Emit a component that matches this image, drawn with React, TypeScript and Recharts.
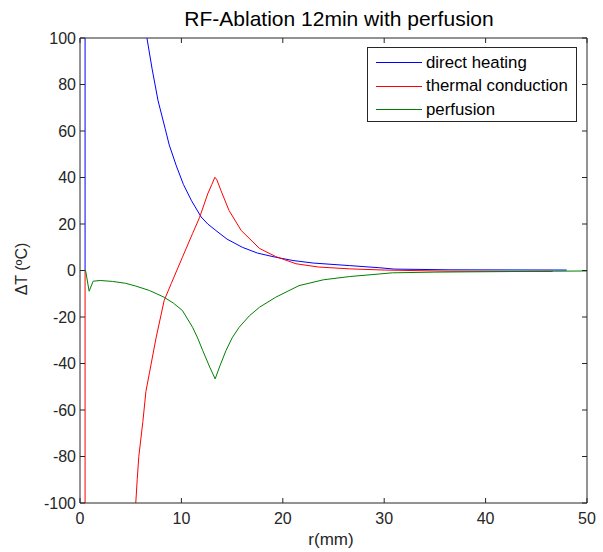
import React from 'react';
import { LineChart, Line, XAxis, YAxis } from 'recharts';

const directR = [0, 0.5, 0.6, 1, 2, 3, 4, 5, 6, 6.6, 7.1, 7.7, 8.4, 8.8, 9.5, 10.2, 11, 11.95, 12.6, 13.4, 14.5, 16, 17.5, 19.3, 21, 23, 26.6, 29.5, 31, 36.4, 48];
const directT = [0, 0, 5000, 4000, 1100, 480, 270, 170, 120, 100, 87, 73, 61, 54, 45, 37, 30, 23, 20, 17.2, 13.5, 10, 7.5, 5.7, 4.3, 3.2, 2.1, 1.2, 0.6, 0.3, 0.2];

const condR = [0, 0.5, 0.55, 1, 3, 5, 5.5, 5.64, 5.8, 6.2, 6.5, 6.85, 7.5, 8.3, 9, 10.1, 11.1, 11.8, 12.6, 13.0, 13.3, 13.5, 13.9, 14.7, 15.9, 17.7, 19.3, 21.3, 23.5, 26.6, 30, 36.4, 46.6];
const condT = [0, 0, -5000, -3000, -800, -180, -100, -90, -80, -65, -52, -44, -29, -12.9, -5.6, 5.7, 15.9, 22.9, 33, 37, 40.1, 39, 34.4, 25.8, 17.2, 9.5, 6, 2.9, 1.5, 0.7, 0.2, -0.3, -0.4];

const perfR = [0, 0.55, 0.9, 1.3, 2, 3.2, 4.5, 5.5, 6.85, 8.3, 9.2, 10.1, 11.1, 11.6, 12.1, 12.8, 13.33, 13.8, 14.4, 15.0, 15.7, 16.7, 17.7, 19.3, 21.6, 24, 26.6, 29.5, 30.8, 35, 46.8, 50];
const perfT = [0, 0, -8.9, -4.6, -4.3, -4.7, -5.5, -6.7, -8.6, -11.5, -14, -17.2, -24.4, -29, -34.4, -41.6, -46.6, -41, -34.4, -29, -24.4, -19.5, -15.8, -11.5, -6.5, -4, -2.6, -1.5, -1, -0.7, -0.3, -0.2];

const xTicks = [0, 10, 20, 30, 40, 50];
const yTicks = [-100, -80, -60, -40, -20, 0, 20, 40, 60, 80, 100];

const seriesNames = ['direct heating', 'thermal conduction', 'perfusion'];
const seriesColors = ['#0000ff', '#ff0000', '#008000'];

const zip = (rs: number[], ts: number[]) => rs.map((r, i) => ({ r, t: ts[i] }));
const directData = zip(directR, directT);
const condData = zip(condR, condT);
const perfData = zip(perfR, perfT);

const FONT = '"Liberation Sans", Arial, sans-serif';
const AX = '#262626';

const LeftTick = (p: any) => (
  <g>
    <line x1={p.x} y1={p.y} x2={p.x + 5} y2={p.y} stroke={AX} />
    <text x={p.x - 4} y={p.y} dy="0.35em" textAnchor="end" fontSize={16} fontFamily={FONT} fill="#262626">{p.payload.value}</text>
  </g>
);
const RightTick = (p: any) => (
  <line x1={p.x} y1={p.y} x2={p.x - 5} y2={p.y} stroke={AX} />
);
const BottomTick = (p: any) => (
  <g>
    <line x1={p.x} y1={p.y} x2={p.x} y2={p.y - 5} stroke={AX} />
    <text x={p.x} y={p.y + 10} dy="0.71em" textAnchor="middle" fontSize={16} fontFamily={FONT} fill="#262626">{p.payload.value}</text>
  </g>
);
const TopTick = (p: any) => (
  <line x1={p.x} y1={p.y} x2={p.x} y2={p.y + 5} stroke={AX} />
);

export default function App() {
  return (
    <div style={{ position: 'absolute', left: 0, top: 0, width: 603, height: 552, background: '#fff', fontFamily: FONT }}>
      <LineChart width={603} height={552} margin={{ top: 0, right: 0, bottom: 0, left: 0 }}>
        <XAxis xAxisId="b" dataKey="r" type="number" domain={[0, 50]} ticks={xTicks} orientation="bottom" height={49}
          tickSize={0} tickMargin={0} tickLine={false} tick={<BottomTick />} stroke={AX} allowDataOverflow interval={0} />
        <XAxis xAxisId="t" dataKey="r" type="number" domain={[0, 50]} ticks={xTicks} orientation="top" height={38}
          tickSize={0} tickMargin={0} tickLine={false} tick={<TopTick />} stroke={AX} allowDataOverflow interval={0} />
        <YAxis yAxisId="l" type="number" domain={[-100, 100]} ticks={yTicks} orientation="left" width={80}
          tickSize={0} tickMargin={0} tickLine={false} tick={<LeftTick />} stroke={AX} allowDataOverflow interval={0} />
        <YAxis yAxisId="r" type="number" domain={[-100, 100]} ticks={yTicks} orientation="right" width={16}
          tickSize={0} tickMargin={0} tickLine={false} tick={<RightTick />} stroke={AX} allowDataOverflow interval={0} />
        <Line xAxisId="b" yAxisId="l" data={directData} dataKey="t" name={seriesNames[0]} stroke={seriesColors[0]} strokeWidth={1} dot={false} type="linear" isAnimationActive={false} />
        <Line xAxisId="b" yAxisId="l" data={condData} dataKey="t" name={seriesNames[1]} stroke={seriesColors[1]} strokeWidth={1} dot={false} type="linear" isAnimationActive={false} />
        <Line xAxisId="b" yAxisId="l" data={perfData} dataKey="t" name={seriesNames[2]} stroke={seriesColors[2]} strokeWidth={1} dot={false} type="linear" isAnimationActive={false} />
      </LineChart>
      <div style={{ position: 'absolute', left: 0, width: 678, top: 7, textAlign: 'center', fontSize: 21, color: '#000', lineHeight: '24px' }}>
        RF-Ablation 12min with perfusion
      </div>
      <div style={{ position: 'absolute', left: 0, width: 662, top: 530, textAlign: 'center', fontSize: 17, color: '#262626', lineHeight: '20px' }}>
        r(mm)
      </div>
      <div style={{ position: 'absolute', left: 22, top: 269, width: 0, height: 0 }}>
        <div style={{ position: 'absolute', left: -60, top: -10, width: 120, height: 20, lineHeight: '20px', textAlign: 'center', fontSize: 16, color: '#262626', transform: 'rotate(-90deg)' }}>
          ΔT (ºC)
        </div>
      </div>
      <div style={{ position: 'absolute', left: 367, top: 47, width: 208, height: 73, border: `1px solid ${AX}`, background: '#fff' }}>
        {seriesNames.map((n, i) => (
          <div key={n} style={{ position: 'absolute', left: 0, top: 3 + i * 23.5, height: 23, width: 208, display: 'flex', alignItems: 'center' }}>
            <svg width={58} height={23} style={{ display: 'block' }}>
              <line x1={8} y1={11.5} x2={54} y2={11.5} stroke={seriesColors[i]} strokeWidth={1} />
            </svg>
            <span style={{ fontSize: 16.8, color: '#000', whiteSpace: 'nowrap' }}>{n}</span>
          </div>
        ))}
      </div>
    </div>
  );
}
